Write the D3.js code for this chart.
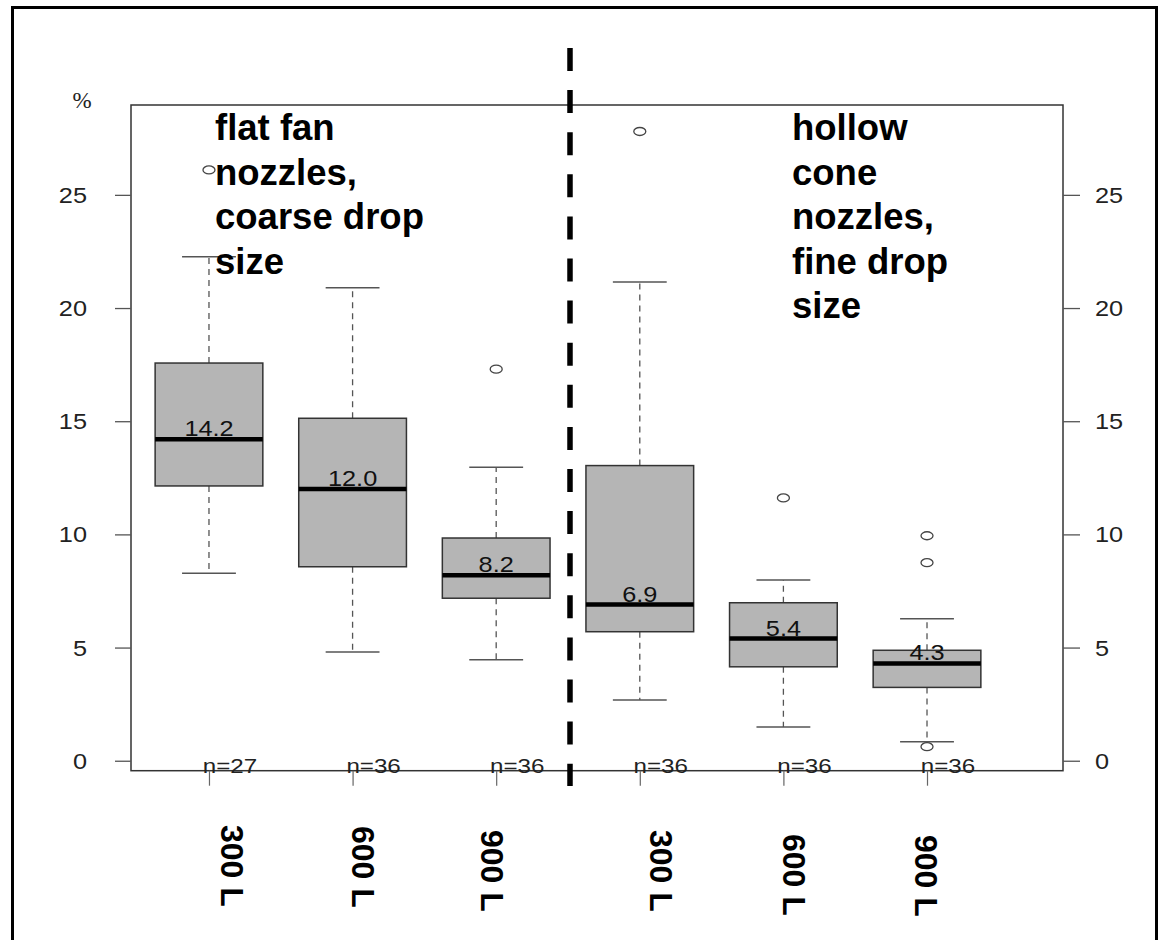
<!DOCTYPE html>
<html>
<head>
<meta charset="utf-8">
<script src="https://cdn.jsdelivr.net/npm/d3@7"></script>
<style>
  body { margin: 0; background: #fff; }
  svg { display: block; font-family: "Liberation Sans", Arial, sans-serif; }
</style>
</head>
<body>
<div id="chart"></div>
<script>
// Werte
const groups = ["300 L", "600 L", "900 L", "300 L", "600 L", "900 L"];
const counts = [27, 36, 36, 36, 36, 36];
const lowerWhisker = [8.28, 4.80, 4.46, 2.68, 1.49, 0.84];
const q1 = [12.14, 8.57, 7.18, 5.70, 4.15, 3.24];
const median = [14.2, 12.0, 8.2, 6.9, 5.4, 4.3];
const q3 = [17.57, 15.13, 9.84, 13.04, 6.98, 4.88];
const upperWhisker = [22.27, 20.90, 12.97, 21.15, 7.99, 6.27];
const outliers = [[26.1], [], [17.3], [27.8], [11.61], [9.94, 8.75, 0.62]];
const yTicks = [0, 5, 10, 15, 20, 25];
const noteLeft = ["flat fan", "nozzles,", "coarse drop", "size"];
const noteRight = ["hollow", "cone", "nozzles,", "fine drop", "size"];

// Layout (manuell platzierte Beschriftungen unten)
const labelShiftX = [12, -1, -15, 10, 0, -12];
const labelStartY = [825, 826, 830, 830, 834, 835];

const W = 1159, H = 940;
const plot = { left: 131, right: 1063, top: 105, bottom: 770.7 };
const stretch = 1.15; // R-Texte sind horizontal gestreckt

const svg = d3.select("#chart").append("svg")
  .attr("width", W).attr("height", H);

// Aeusserer Rahmen
svg.append("rect")
  .attr("x", 12.5).attr("y", 7.5)
  .attr("width", 1144).attr("height", 950)
  .attr("fill", "none").attr("stroke", "#000").attr("stroke-width", 3);

const x = d3.scaleLinear().domain([0.457, 6.947]).range([plot.left, plot.right]);
const y = d3.scaleLinear().domain([-0.44, 28.97]).range([plot.bottom, plot.top]);
const boxW = 0.75 * (x(2) - x(1));
const idx = d3.range(groups.length);

// Plotrahmen
svg.append("rect")
  .attr("x", plot.left).attr("y", plot.top)
  .attr("width", plot.right - plot.left).attr("height", plot.bottom - plot.top)
  .attr("fill", "none").attr("stroke", "#333").attr("stroke-width", 1.5);

// Achsen (nur Striche)
svg.append("g")
  .attr("transform", `translate(${plot.left},0)`)
  .call(d3.axisLeft(y).tickValues(yTicks).tickSize(16).tickFormat(""))
  .call(g => g.select(".domain").remove())
  .call(g => g.selectAll("line").attr("stroke", "#555").attr("stroke-width", 1.3));

svg.append("g")
  .attr("transform", `translate(${plot.right},0)`)
  .call(d3.axisRight(y).tickValues(yTicks).tickSize(17).tickFormat(""))
  .call(g => g.select(".domain").remove())
  .call(g => g.selectAll("line").attr("stroke", "#555").attr("stroke-width", 1.3));

svg.append("g")
  .attr("transform", `translate(0,${plot.bottom})`)
  .call(d3.axisBottom(x).tickValues(idx.map(i => i + 1)).tickSize(15).tickFormat(""))
  .call(g => g.select(".domain").remove())
  .call(g => g.selectAll("line").attr("stroke", "#666").attr("stroke-width", 1.2));

// Tick-Beschriftungen
yTicks.forEach(t => {
  svg.append("text")
    .attr("transform", `translate(87,${y(t) + 8}) scale(${stretch},1)`)
    .attr("text-anchor", "end").attr("font-size", 22).attr("fill", "#222")
    .text(t);
  svg.append("text")
    .attr("transform", `translate(1095,${y(t) + 8}) scale(${stretch},1)`)
    .attr("text-anchor", "start").attr("font-size", 22).attr("fill", "#222")
    .text(t);
});

svg.append("text")
  .attr("x", 82).attr("y", 108)
  .attr("text-anchor", "middle")
  .attr("font-family", "'Liberation Serif', serif")
  .attr("font-size", 23).attr("fill", "#222")
  .text("%");

// Boxplots
const box = svg.append("g");

idx.forEach(i => {
  const cx = x(i + 1);
  // Whisker
  [[q3[i], upperWhisker[i]], [q1[i], lowerWhisker[i]]].forEach(([a, b]) => {
    box.append("line")
      .attr("x1", cx).attr("x2", cx).attr("y1", y(a)).attr("y2", y(b))
      .attr("stroke", "#555").attr("stroke-width", 1.3).attr("stroke-dasharray", "6,5");
    box.append("line")
      .attr("x1", cx - boxW / 4).attr("x2", cx + boxW / 4).attr("y1", y(b)).attr("y2", y(b))
      .attr("stroke", "#555").attr("stroke-width", 1.5);
  });
  // Box
  box.append("rect")
    .attr("x", cx - boxW / 2).attr("y", y(q3[i]))
    .attr("width", boxW).attr("height", y(q1[i]) - y(q3[i]))
    .attr("fill", "#b5b5b5").attr("stroke", "#333").attr("stroke-width", 1.5);
  // Medianwert
  box.append("text")
    .attr("transform", `translate(${cx},${y(median[i]) - 3}) scale(${stretch},1)`)
    .attr("text-anchor", "middle").attr("font-size", 22).attr("fill", "#111")
    .text(median[i].toFixed(1));
  box.append("line")
    .attr("x1", cx - boxW / 2).attr("x2", cx + boxW / 2)
    .attr("y1", y(median[i])).attr("y2", y(median[i]))
    .attr("stroke", "#000").attr("stroke-width", 4.5);
  // Ausreisser
  outliers[i].forEach(v => {
    box.append("ellipse")
      .attr("cx", cx).attr("cy", y(v)).attr("rx", 6).attr("ry", 4)
      .attr("fill", "none").attr("stroke", "#444").attr("stroke-width", 1.3);
  });
  // n=
  box.append("text")
    .attr("transform", `translate(${cx + 21},${plot.bottom + 2.5}) scale(${stretch},1)`)
    .attr("text-anchor", "middle").attr("font-size", 21).attr("fill", "#222")
    .text("n=" + counts[i]);
  // Gruppenbeschriftung, gedreht
  box.append("text")
    .attr("transform", `translate(${cx + labelShiftX[i]},${labelStartY[i]}) rotate(90)`)
    .attr("font-size", 32).attr("font-weight", "bold").attr("fill", "#000")
    .text(groups[i]);
});

// Trennlinie
svg.append("line")
  .attr("x1", 570).attr("x2", 570).attr("y1", 48).attr("y2", 786)
  .attr("stroke", "#000").attr("stroke-width", 5.5).attr("stroke-dasharray", "23,19.1");

// Hinweistexte
function note(lines, left) {
  svg.append("g").selectAll("text").data(lines).join("text")
    .attr("x", left).attr("y", (d, i) => 140 + i * 44.5)
    .attr("font-size", 36.5).attr("font-weight", "bold").attr("fill", "#000")
    .text(d => d);
}
note(noteLeft, 215);
note(noteRight, 792);
</script>
</body>
</html>
